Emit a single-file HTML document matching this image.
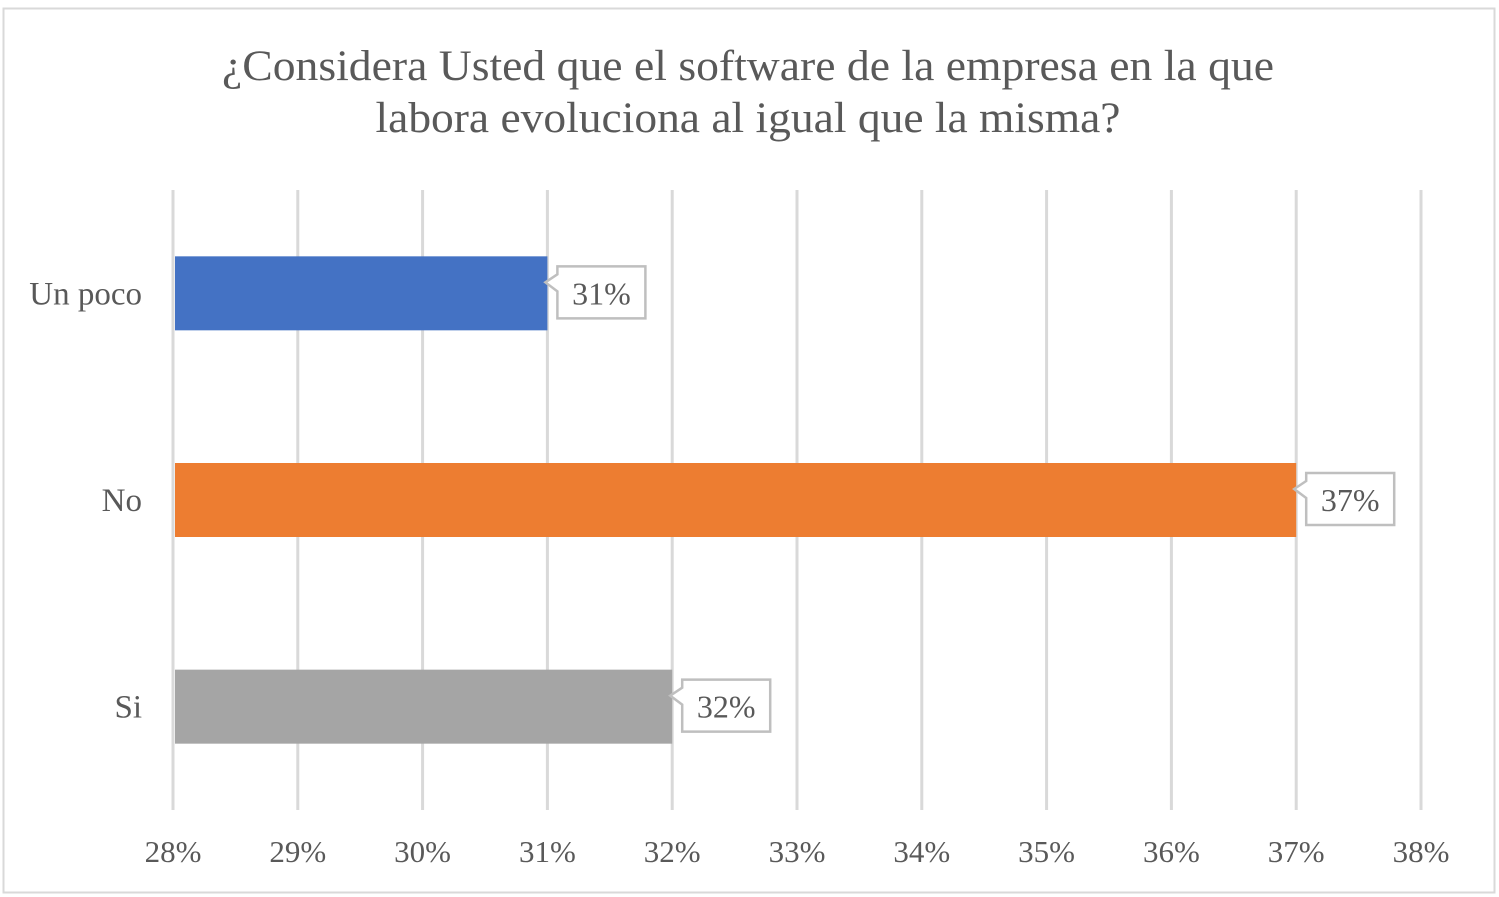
<!DOCTYPE html>
<html><head><meta charset="utf-8"><style>
html,body{margin:0;padding:0;background:#fff;}
svg{display:block;font-family:"Liberation Serif",serif;}
</style></head><body>
<svg id="c" width="1499" height="897">
<rect x="3.5" y="8.5" width="1491" height="884" fill="#fff" stroke="#d9d9d9" stroke-width="2"/>
<text x="748" y="80" font-size="43" fill="#595959" text-anchor="middle" textLength="1052" lengthAdjust="spacingAndGlyphs">¿Considera Usted que el software de la empresa en la que</text>
<text x="748" y="132" font-size="43" fill="#595959" text-anchor="middle" textLength="745" lengthAdjust="spacingAndGlyphs">labora evoluciona al igual que la misma?</text>
<g id="grid"></g><g id="bars"></g><g id="labels"></g>
</svg>
<script>
const categories=["Un poco","No","Si"];
const values=[31,37,32];
const colors=["#4472c4","#ed7d31","#a5a5a5"];
const ticks=[28,29,30,31,32,33,34,35,36,37,38];
const NS="http://www.w3.org/2000/svg";
const X0=173,X1=1421,PTOP=190,PBOT=810,bandH=(PBOT-PTOP)/3,barH=74;
function xs(v){return X0+(v-28)/(38-28)*(X1-X0);}
function yc(i){return PTOP+bandH*(i+0.5);}
function mk(t,a,p){const e=document.createElementNS(NS,t);for(const k in a)e.setAttribute(k,a[k]);p.appendChild(e);return e;}
const g=document.getElementById('grid'),b=document.getElementById('bars'),l=document.getElementById('labels');
ticks.forEach(t=>{
 const ln=mk('line',{x1:xs(t),x2:xs(t),y1:PTOP,y2:PBOT,stroke:'#d9d9d9','stroke-width':3},g);
 
 
 const tx=mk('text',{x:xs(t),y:862,'font-size':31,fill:'#595959','text-anchor':'middle'},g);
 tx.textContent=t+'%';
 
 
});
categories.forEach((c,i)=>{
 const y=yc(i);
 const r=mk('rect',{x:xs(28)+2,y:y-barH/2,width:xs(values[i])-xs(28)-2,height:barH,fill:colors[i]},b);
 
 
 const ct=mk('text',{x:142,y:y+11,'font-size':33,fill:'#595959','text-anchor':'end'},l);
 ct.textContent=c;
 
 
 const bx=xs(values[i])+10,by=y-27,w=88,h=52;
 const p=mk('path',{d:`M${bx},${by} H${bx+w} V${by+h} H${bx} V${by+25} L${bx-12},${by+16} L${bx},${by+8} Z`,fill:'#fff',stroke:'#bfbfbf','stroke-width':2.5},l);
 
 
 const vt=mk('text',{x:bx+w/2,y:y+11,'font-size':32,fill:'#595959','text-anchor':'middle'},l);
 vt.textContent=values[i]+'%';
 
 
});
</script>
</body></html>
